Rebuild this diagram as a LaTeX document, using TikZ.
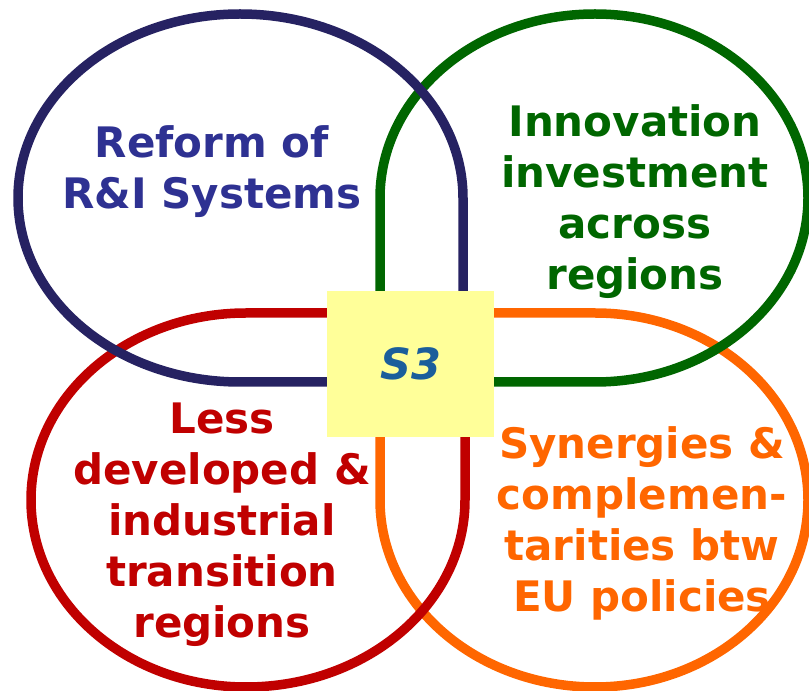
\documentclass[tikz,border=0pt]{standalone}
\usepackage{fontspec}
\setmainfont{DejaVu Sans}
\definecolor{bluestroke}{HTML}{262262}
\definecolor{bluetext}{HTML}{2E3192}
\definecolor{greenc}{HTML}{006600}
\definecolor{redc}{HTML}{C00000}
\definecolor{orangec}{HTML}{FF6600}
\definecolor{sthree}{HTML}{1B5E9B}
\definecolor{boxfill}{HTML}{FFFF99}
\tikzset{
  loopline/.style={line width=9.5pt, line join=round},
  lbl/.style={align=center, inner sep=0pt, font=\bfseries\fontsize{42}{51}\selectfont},
  s3box/.style={fill=boxfill, draw=none, minimum width=167pt, minimum height=146pt, inner sep=0pt,
    font=\bfseries\itshape\fontsize{43}{50}\selectfont, text=sthree}
}
\begin{document}
\begin{tikzpicture}[x=1pt,y=1pt]
\useasboundingbox (0,0) rectangle (809,691);
% orange loop (bottom right)
\draw[loopline, orangec] (380,378) -- (595,378)
  arc[start angle=90, end angle=-90, x radius=213, y radius=187]
  arc[start angle=270, end angle=180, x radius=215, y radius=187] -- cycle;
% red loop (bottom left)
\draw[loopline, redc] (465,378) -- (246,378)
  arc[start angle=90, end angle=270, x radius=215, y radius=187]
  arc[start angle=270, end angle=360, x radius=219, y radius=187] -- cycle;
% green loop (top right)
\draw[loopline, greenc] (380,309) -- (595,309)
  arc[start angle=270, end angle=450, x radius=213, y radius=184]
  arc[start angle=90, end angle=180, x radius=215, y radius=184] -- cycle;
% blue loop (top left)
\draw[loopline, bluestroke] (463,309) -- (240,309)
  arc[start angle=270, end angle=90, x radius=222, y radius=184]
  arc[start angle=90, end angle=0, x radius=223, y radius=184] -- cycle;
% centre box
\node[s3box] (s3) at (410.5,327) {S3};
% labels
\node[lbl, text=bluetext] (reform) at (212,519.5) {Reform of\\R\&I Systems};
\node[lbl, text=greenc] (innov) at (635,489.5) {Innovation\\investment\\across\\regions};
\node[lbl, text=redc] (less) at (222,166.5) {Less\\developed \&\\industrial\\transition\\regions};
\node[lbl, text=orangec] (syn) at (642,167.5) {Synergies \&\\complemen-\\tarities btw\\EU policies};
\end{tikzpicture}
\end{document}
